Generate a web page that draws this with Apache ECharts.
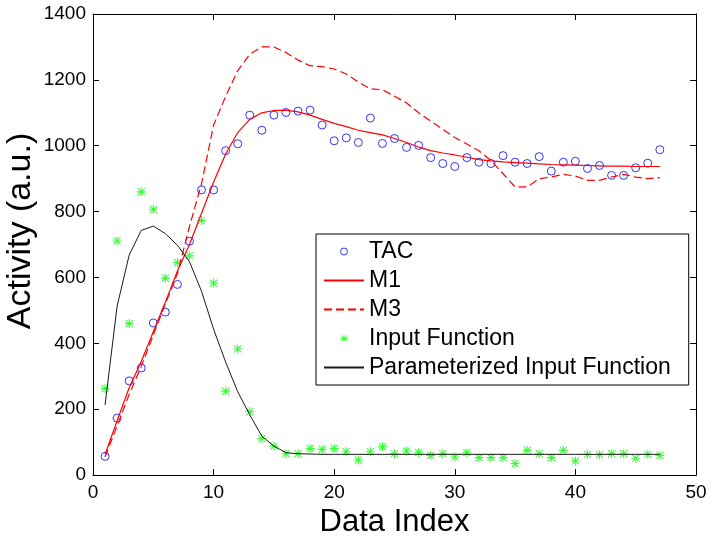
<!DOCTYPE html>
<html>
<head>
<meta charset="utf-8">
<script src="https://cdn.jsdelivr.net/npm/echarts@6/dist/echarts.min.js"></script>
<style>html,body{margin:0;padding:0;background:#fff}#c{width:714px;height:543px}</style>
</head>
<body>
<div id="c"></div>
<script>
var dataIndex = [1,2,3,4,5,6,7,8,9,10,11,12,13,14,15,16,17,18,19,20,21,22,23,24,25,26,27,28,29,30,31,32,33,34,35,36,37,38,39,40,41,42,43,44,45,46,47];
var tac = [57,173,286,325,462,495,579,710,866,866,985,1006,1093,1047,1093,1101,1105,1108,1063,1015,1024,1010,1084,1007,1022,995,1001,964,946,937,964,950,946,970,950,946,967,923,950,953,931,940,910,910,933,947,988];
var m1 = [63,165,265,345,435,525,620,700,795,890,975,1040,1080,1100,1107,1108,1103,1093,1080,1068,1058,1047,1040,1033,1022,1010,996,985,978,972,965,958,954,951,949,947,945,943,942,941,940,939,938,938,937,937,937];
var m3 = [55,150,245,330,425,520,612,755,885,1063,1150,1228,1278,1300,1300,1283,1260,1243,1240,1233,1218,1193,1173,1170,1150,1130,1100,1075,1050,1025,1005,985,955,915,875,875,900,905,913,908,895,895,905,913,905,900,903];
var inputFn = [263,711,460,860,807,598,645,666,773,583,255,383,193,111,88,65,65,81,78,81,71,46,71,86,65,73,68,60,65,55,68,53,53,53,35,75,65,53,75,43,63,62,65,65,51,63,60];
var paramInputFn = [213,513,668,743,756,733,698,648,558,443,343,253,183,118,88,68,65,64,63,63,63,63,63,63,63,63,63,63,63,63,63,63,63,63,63,63,63,63,63,63,63,63,63,63,63,63,63];
var xTicks = {min: 0, max: 50, interval: 10};
var yTicks = {min: 0, max: 1400, interval: 200};
var seriesNames = ['TAC', 'M1', 'M3', 'Input Function', 'Parameterized Input Function'];

function pairs(ys) { return dataIndex.map(function (x, i) { return [x, ys[i]]; }); }

var FONT = 'Arial, "Liberation Sans", Helvetica, sans-serif';
var starPath = 'path://M4.4,0H5.6V10H4.4Z M0,4.4H10V5.6H0Z M1.5,0.7L9.3,8.5L8.5,9.3L0.7,1.5Z M8.5,0.7L9.3,1.5L1.5,9.3L0.7,8.5Z';
var hideSym = {color: 'rgba(0,0,0,0)', borderWidth: 0, opacity: 0};

var chart = echarts.init(document.getElementById('c'), null, {renderer: 'canvas'});
function axisCommon() {
  return {
    axisLine: {show: true, onZero: false, lineStyle: {color: '#000', width: 1}},
    axisTick: {show: true, inside: true, length: 6, lineStyle: {color: '#000'}},
    splitLine: {show: false}
  };
}
chart.setOption({
  animation: false,
  backgroundColor: '#fff',
  grid: {left: 93, right: 18, top: 14, bottom: 62},
  xAxis: [
    Object.assign({type: 'value', position: 'bottom', min: xTicks.min, max: xTicks.max, interval: xTicks.interval,
      name: 'Data Index', nameLocation: 'middle', nameGap: 25,
      nameTextStyle: {fontSize: 31, color: '#000', fontFamily: FONT},
      axisLabel: {fontSize: 19, color: '#000', margin: 8, fontFamily: FONT}}, axisCommon()),
    Object.assign({type: 'value', position: 'top', min: xTicks.min, max: xTicks.max, interval: xTicks.interval,
      axisLabel: {show: false}}, axisCommon())
  ],
  yAxis: [
    Object.assign({type: 'value', position: 'left', min: yTicks.min, max: yTicks.max, interval: yTicks.interval,
      axisLabel: {fontSize: 19, color: '#000', margin: 7, fontFamily: FONT, formatter: function (v) { return String(v); }}}, axisCommon()),
    Object.assign({type: 'value', position: 'right', min: yTicks.min, max: yTicks.max, interval: yTicks.interval,
      axisLabel: {show: false}}, axisCommon())
  ],
  graphic: [{
    type: 'text', x: 21, y: 231, rotation: Math.PI / 2,
    style: {text: 'Activity (a.u.)', fontSize: 34, fill: '#000', fontFamily: FONT, align: 'center', verticalAlign: 'middle'}
  }],
  legend: {
    orient: 'vertical', left: 316, top: 234,
    padding: [3, 18, 3, 7],
    itemWidth: 40, itemHeight: 7, itemGap: 0,
    borderColor: '#000', borderWidth: 1, borderRadius: 0,
    backgroundColor: '#fff',
    textStyle: {fontSize: 23, color: '#000', fontFamily: FONT, lineHeight: 29},
    data: [
      {name: seriesNames[0], icon: 'circle', itemStyle: {color: 'rgba(0,0,0,0)', borderColor: '#0000ff', borderWidth: 1}},
      {name: seriesNames[1], itemStyle: hideSym},
      {name: seriesNames[2], itemStyle: hideSym},
      {name: seriesNames[3], icon: starPath, itemStyle: {color: '#00ff00'}},
      {name: seriesNames[4], itemStyle: hideSym}
    ]
  },
  series: [
    {name: seriesNames[0], type: 'scatter', data: pairs(tac), symbol: 'circle', symbolSize: 8,
      itemStyle: {color: 'rgba(0,0,0,0)', borderColor: '#0000ff', borderWidth: 1}},
    {name: seriesNames[1], type: 'line', data: pairs(m1), showSymbol: false, symbol: 'none',
      lineStyle: {color: '#ff0000', width: 1.2}, itemStyle: {color: '#ff0000'}},
    {name: seriesNames[2], type: 'line', data: pairs(m3), showSymbol: false, symbol: 'none',
      lineStyle: {color: '#ff0000', width: 1.2, type: [8, 4]}, itemStyle: {color: '#ff0000'}},
    {name: seriesNames[3], type: 'scatter', data: pairs(inputFn), symbol: starPath, symbolSize: 9,
      itemStyle: {color: '#00ff00'}},
    {name: seriesNames[4], type: 'line', data: pairs(paramInputFn), showSymbol: false, symbol: 'none',
      lineStyle: {color: '#1a1a1a', width: 1}, itemStyle: {color: '#1a1a1a'}}
  ]
});
</script>
</body>
</html>
